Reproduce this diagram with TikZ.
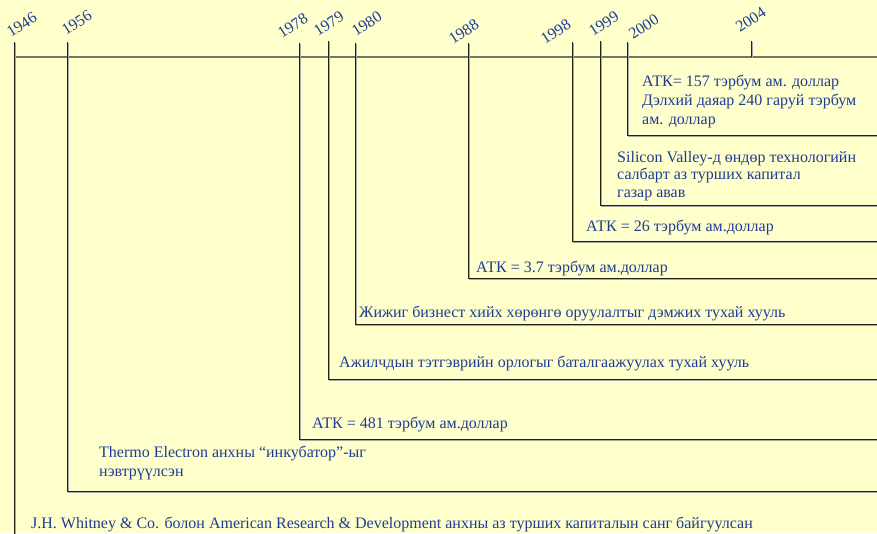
\documentclass[tikz,border=0pt]{standalone}
\usepackage{fontspec}
\setmainfont{Liberation Serif}
\usetikzlibrary{positioning}
\definecolor{PageYellow}{HTML}{FFFFCC}
\definecolor{EventBlue}{HTML}{1E3C96}
\definecolor{AxisOlive}{HTML}{78765A}
\definecolor{LineDark}{HTML}{22221A}

\begin{document}
\begin{tikzpicture}[
  x=1pt, y=-1pt,
  year/.style={anchor=base west, rotate=33, inner sep=0pt, text=EventBlue, font=\fontsize{16}{18}\selectfont},
  event/.style={anchor=base west, inner sep=0pt, align=left, text=EventBlue, font=\fontsize{16}{19}\selectfont},
  elbow/.style={draw=LineDark, line width=1pt},
  elbowshade/.style={draw=gray!70, line width=1pt, transform canvas={shift={(1pt,-1pt)}}},
  axis/.style={draw=AxisOlive, line width=2pt}
]
\useasboundingbox (0,0) rectangle (877,533);
\fill[PageYellow] (0,0) rectangle (877,533);

% axis
\coordinate (axL) at (14,57);
\coordinate (axR) at (877,57);
\draw[axis] (axL) -- (axR);

% tick tops and line ends
\coordinate (t1946) at (14,42);   \coordinate (r1946) at (14,540);
\coordinate (t1956) at (67,42);   \coordinate (r1956) at (880,491);
\coordinate (t1978) at (299,43);  \coordinate (r1978) at (880,439);
\coordinate (t1979) at (328,41);  \coordinate (r1979) at (880,379);
\coordinate (t1980) at (355,43);  \coordinate (r1980) at (880,324);
\coordinate (t1988) at (468,43);  \coordinate (r1988) at (880,278);
\coordinate (t1998) at (572,42);  \coordinate (r1998) at (880,241);
\coordinate (t1999) at (600,41);  \coordinate (r1999) at (880,205);
\coordinate (t2000) at (627,42);  \coordinate (r2000) at (880,135);
\coordinate (t2004) at (751,41);  \coordinate (r2004) at (751,57);

% shadows
\draw[elbowshade] (t1946) -- (r1946);
\draw[elbowshade] (t1956) |- (r1956);
\draw[elbowshade] (t1978) |- (r1978);
\draw[elbowshade] (t1979) |- (r1979);
\draw[elbowshade] (t1980) |- (r1980);
\draw[elbowshade] (t1988) |- (r1988);
\draw[elbowshade] (t1998) |- (r1998);
\draw[elbowshade] (t1999) |- (r1999);
\draw[elbowshade] (t2000) |- (r2000);
\draw[elbowshade] (t2004) -- (r2004);

% lines
\draw[elbow] (t1946) -- (r1946);
\draw[elbow] (t1956) |- (r1956);
\draw[elbow] (t1978) |- (r1978);
\draw[elbow] (t1979) |- (r1979);
\draw[elbow] (t1980) |- (r1980);
\draw[elbow] (t1988) |- (r1988);
\draw[elbow] (t1998) |- (r1998);
\draw[elbow] (t1999) |- (r1999);
\draw[elbow] (t2000) |- (r2000);
\draw[elbow] (t2004) -- (r2004);

% years
\node[year] (y1946) at (11,38) {1946};
\node[year] (y1956) at (66,36) {1956};
\node[year] (y1978) at (282,39) {1978};
\node[year] (y1979) at (318,37) {1979};
\node[year] (y1980) at (356,37) {1980};
\node[year] (y1988) at (453,45) {1988};
\node[year] (y1998) at (545,45) {1998};
\node[year] (y1999) at (593,37) {1999};
\node[year] (y2000) at (633,40) {2000};
\node[year] (y2004) at (740,33) {2004};

% events (base = last line)
\node[event] (e2000) at (642,124) {АТК= 157 тэрбум ам. доллар\\Дэлхий даяар 240 гаруй тэрбум\\ам. доллар};
\node[event, font=\fontsize{16}{17.5}\selectfont] (e1999) at (617,197) {Silicon Valley-д өндөр технологийн\\салбарт аз турших капитал\\газар авав};
\node[event] (e1998) at (586,231) {АТК = 26 тэрбум ам.доллар};
\node[event] (e1988) at (476,272) {АТК = 3.7 тэрбум ам.доллар};
\node[event] (e1980) at (359,317) {Жижиг бизнест хийх хөрөнгө оруулалтыг дэмжих тухай хууль};
\node[event] (e1979) at (339,367) {Ажилчдын тэтгэврийн орлогыг баталгаажуулах тухай хууль};
\node[event] (e1978) at (312,428) {АТК = 481 тэрбум ам.доллар};
\node[event] (e1956) at (99,476) {Thermo Electron анхны “инкубатор”-ыг\\нэвтрүүлсэн};
\node[event] (e1946) at (31,528) {J.H. Whitney \& Co. болон American Research \& Development анхны аз турших капиталын санг байгуулсан};
\end{tikzpicture}
\end{document}
